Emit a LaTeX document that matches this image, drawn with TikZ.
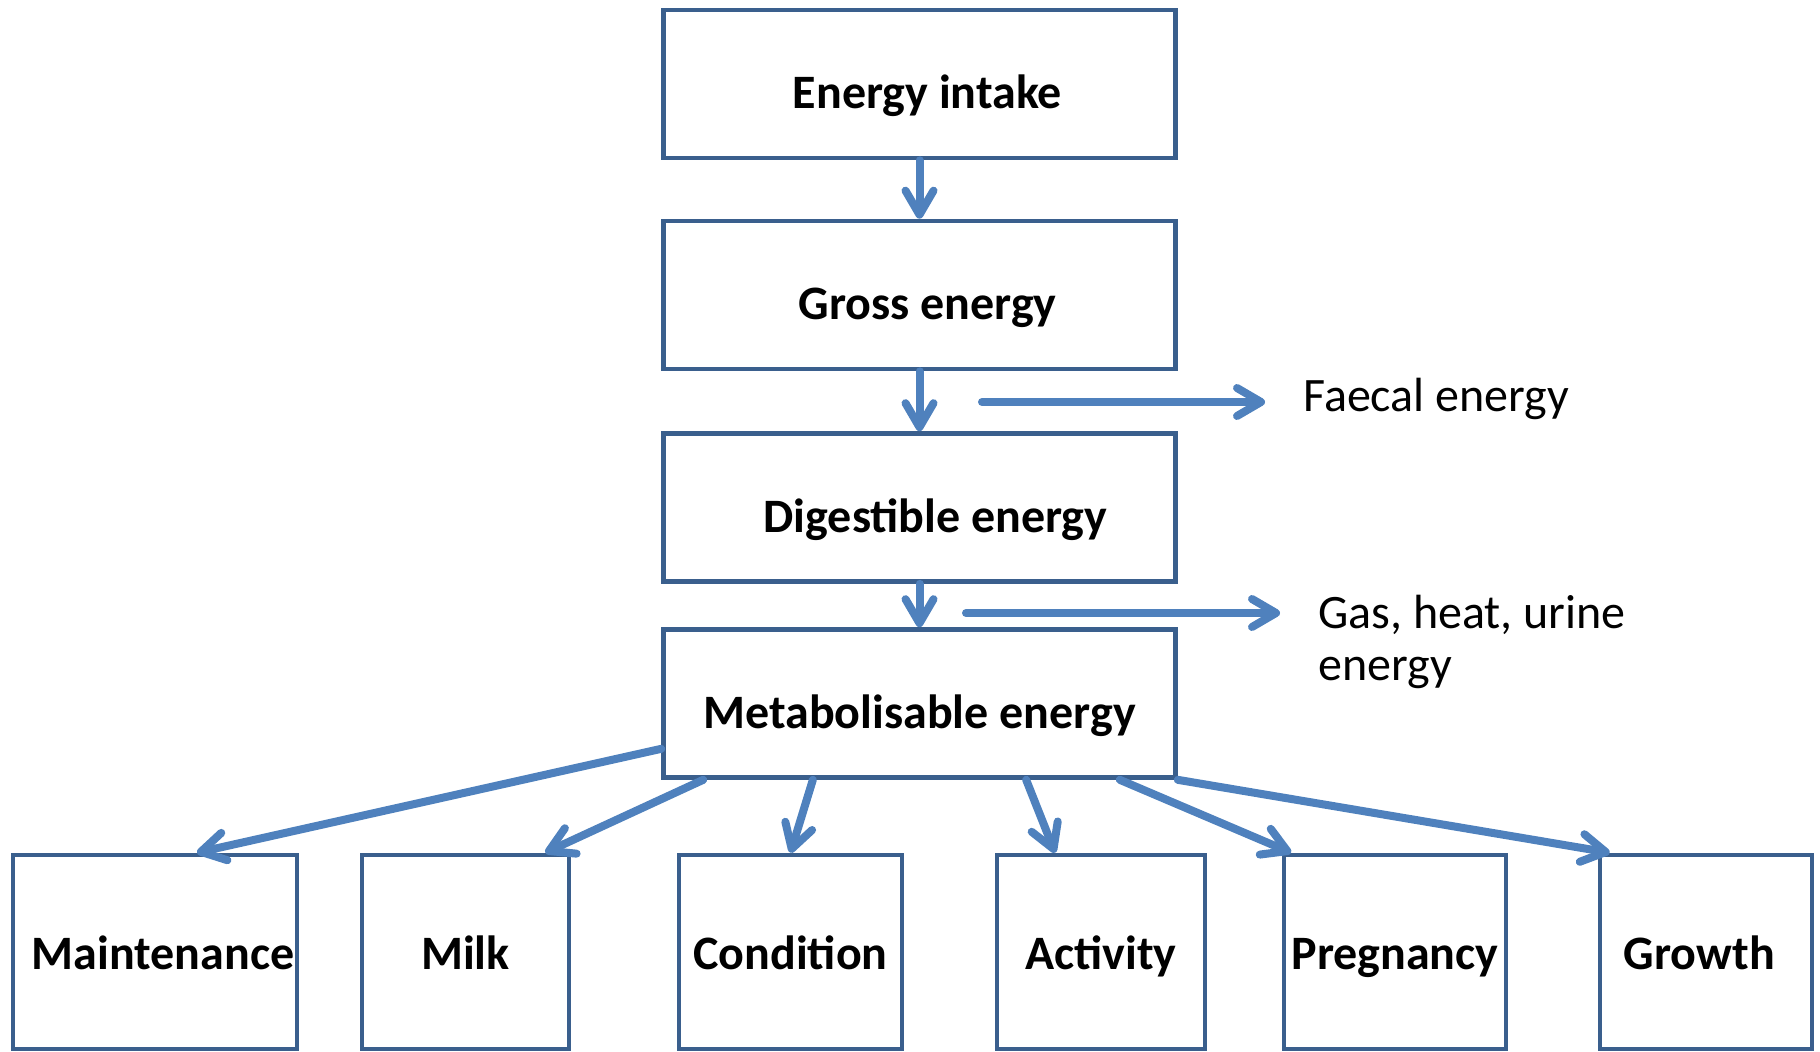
\documentclass[tikz,border=0pt]{standalone}
\usepackage{fontspec}
\setmainfont{Carlito}
\usetikzlibrary{arrows.meta}
\definecolor{boxblue}{HTML}{3A5F8D}
\definecolor{arrowblue}{HTML}{4F81BD}
\begin{document}
\begin{tikzpicture}[x=0.75pt,y=-0.75pt]
\tikzset{
  energybox/.style={rectangle,draw=boxblue,line width=3.5pt,inner sep=0pt,text depth=0pt,font=\fontsize{36}{43}\selectfont\bfseries},
  topbox/.style={energybox,minimum width=384pt,minimum height=111pt,text height=37pt},
  outbox/.style={energybox,minimum height=145.5pt,text height=26pt},
  textnudge/.style={execute at begin node={\hspace*{#1}}},
  losstext/.style={inner sep=0pt,anchor=base west,align=left,font=\fontsize{36}{39}\selectfont},
  flowedge/.style={draw=arrowblue,line width=6pt,line cap=round,line join=round},
  flow/.style={flowedge,-{Straight Barb[length=18pt,width=21pt,round]}}
}
\useasboundingbox (0,0) rectangle (1820,1052);
\node[topbox,textnudge=12pt] (n_intake) at (919.5,84) {Energy intake};
\node[topbox,textnudge=12pt] (n_gross) at (919.5,295) {Gross energy};
\node[topbox,textnudge=24pt] (n_digest) at (919.5,507.5) {Digestible energy};
\node[topbox] (n_metab) at (919.5,703.5) {Metabolisable energy};
\node[outbox,minimum width=213pt,textnudge=12pt] (n_maint) at (155,952) {Maintenance};
\node[outbox,minimum width=155.25pt] (n_milk) at (465.5,952) {Milk};
\node[outbox,minimum width=167.25pt] (n_cond) at (790.5,952) {Condition};
\node[outbox,minimum width=156pt] (n_activ) at (1101,952) {Activity};
\node[outbox,minimum width=166.5pt] (n_preg) at (1395,952) {Pregnancy};
\node[outbox,minimum width=159pt,textnudge=-10pt] (n_growth) at (1706,952) {Growth};
\node[losstext] (n_faecal) at (1303,411) {Faecal energy};
\node[losstext] (n_gas) at (1318,680) {Gas, heat, urine\\energy};
\coordinate (c_faecal) at (982,402);
\coordinate (c_gas) at (966,613);
\draw[flow] (n_intake) -- (n_gross);
\draw[flow] (n_gross) -- (n_digest);
\draw[flow] (n_digest) -- (n_metab);
\draw[flow,shorten >=28.5pt] (c_faecal) -- (c_faecal -| n_faecal.west);
\draw[flow,shorten >=28.5pt] (c_gas) -- (c_gas -| n_gas.west);
\draw[flow] ([yshift=-34pt]n_metab.west) -- ([xshift=31.5pt]n_maint.north);
\draw[flow] ([xshift=31.5pt]n_metab.south west) -- ([xshift=-19.5pt]n_milk.north east);
\draw[flow] ([xshift=-80pt]n_metab.south) -- (n_cond.north);
\draw[flow] ([xshift=80pt]n_metab.south) -- ([xshift=-34.5pt]n_activ.north);
\draw[flow] ([xshift=-43.5pt]n_metab.south east) -- ([xshift=7pt]n_preg.north west);
\draw[flow] (n_metab.south east) -- ([xshift=9pt]n_growth.north west);
\end{tikzpicture}
\end{document}
